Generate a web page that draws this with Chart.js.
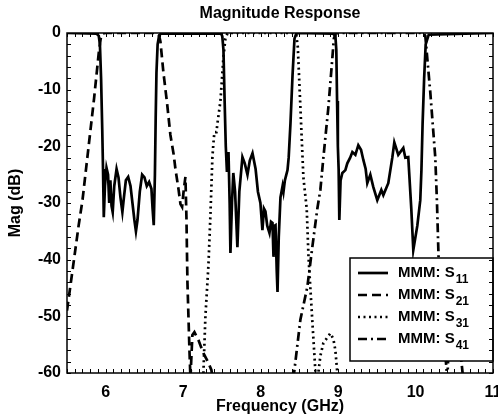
<!DOCTYPE html>
<html>
<head>
<meta charset="utf-8">
<title>Magnitude Response</title>
<script src="https://cdn.jsdelivr.net/npm/chart.js@4.4.1/dist/chart.umd.min.js"></script>
<style>
  html, body { margin: 0; padding: 0; background: #fff; }
  #wrap { width: 498px; height: 417px; }
</style>
</head>
<body>
<div id="wrap"><canvas id="magChart" width="498" height="417"></canvas></div>
<script>
// ============================================================
// Data
// ============================================================

const xTicks = [6, 7, 8, 9, 10, 11];
const yTicks = [0, -10, -20, -30, -40, -50, -60];
const seriesLabels = ['S11', 'S21', 'S31', 'S41'];

// S11 - solid
const s11Freq = [5.5, 5.88, 5.91, 5.925, 5.94, 5.955, 5.965, 5.975, 5.99, 6.01, 6.03, 6.045, 6.06, 6.075, 6.09,
  6.11, 6.14, 6.165, 6.19, 6.215, 6.235, 6.26, 6.29, 6.32, 6.345, 6.37, 6.39, 6.41, 6.44, 6.47, 6.5, 6.53,
  6.56, 6.59, 6.605, 6.62, 6.635, 6.645, 6.655, 6.67, 6.69, 6.72,
  7.49, 7.505, 7.52, 7.535, 7.55, 7.565, 7.585, 7.60, 7.61, 7.63, 7.647, 7.67, 7.70, 7.725, 7.765, 7.795,
  7.83, 7.86, 7.895, 7.935, 7.965, 7.997, 8.023, 8.043, 8.062, 8.085, 8.114, 8.134, 8.153, 8.166, 8.18,
  8.192, 8.208, 8.218, 8.234, 8.256, 8.283, 8.295, 8.313, 8.347, 8.362, 8.385, 8.412, 8.437, 8.46, 8.48,
  8.93, 8.965, 8.977, 8.987, 8.997, 9.007, 9.016, 9.032, 9.055, 9.094, 9.119, 9.156, 9.184, 9.223, 9.261,
  9.296, 9.326, 9.356, 9.377, 9.416, 9.455, 9.506, 9.558, 9.584, 9.648, 9.70, 9.726, 9.777, 9.842, 9.868,
  9.906, 9.945, 9.971, 10.023, 10.061, 10.076, 10.091, 10.111, 10.131, 10.17, 11];
const s11Mag = [0, -0.1, -0.5, -2, -8, -17, -24, -32.5, -27, -23.8, -25, -30, -26, -30.5, -31.6,
  -27, -24, -25.5, -29, -31.6, -29, -26, -25.4, -27, -30, -33, -35, -33, -28, -25, -25.5, -27,
  -26.3, -27.5, -31, -33.9, -25, -15, -7, -2, -0.4, -0.05,
  -0.1, -0.6, -3, -12, -20, -24.5, -21, -30, -38.8, -30, -24.7, -28, -37.8, -28, -21.9, -23,
  -25, -22.5, -21.2, -24, -28, -30, -34.8, -31, -31.5, -34, -35.3, -33.3, -33.5, -39.5, -34,
  -33.9, -42, -45.7, -36, -29, -27, -28, -26, -24.2, -22, -16, -7.4, -1, -0.1, 0,
  -0.1, -0.5, -3, -12, -20, -24, -33, -26, -24.7, -24.2, -23, -22, -21, -21.5, -19.8,
  -20.6, -22.4, -24, -26.5, -25, -27.2, -29.5, -27.7, -28.6, -26.5, -22, -19.3, -21.5, -20.3, -22,
  -21.9, -31, -38.3, -34, -29.5, -24.2, -16, -8, -2, -0.3, 0, 0];

// S21 - dashed
const s21Freq = [5.5, 5.55, 5.6, 5.65, 5.7, 5.75, 5.8, 5.85, 5.88, 5.91, 5.935, 5.96, 6.0, 6.65, 6.69,
  6.706, 6.745, 6.793, 6.835, 6.878, 6.9, 6.939, 6.965, 6.986, 7.007, 7.029, 7.042, 7.055, 7.081, 7.094,
  7.1, 7.119, 7.145, 7.197, 7.261, 7.326, 7.365, 7.377];
const s21Mag = [-49, -44, -39, -34, -29.5, -23.5, -17.5, -11.5, -7.5, -3.5, -1, -0.1, 0, 0, -0.5,
  -1.5, -7, -12.5, -18, -21.5, -24, -27.5, -30.2, -30.7, -27.7, -25.4, -32.5, -44, -56, -61,
  -59, -53.3, -52.8, -54.2, -56.5, -58.2, -59.5, -61];

// S31 - dotted
const s31Freq = [7.248, 7.261, 7.287, 7.326, 7.352, 7.377, 7.39, 7.403, 7.429, 7.442, 7.481, 7.519,
  7.545, 7.571, 7.6, 8.44, 8.46, 8.48, 8.513, 8.552, 8.595, 8.618, 8.668, 8.706, 8.72,
  8.745, 8.771, 8.81, 8.9, 8.939, 8.965, 8.99, 9.0];
const s31Mag = [-61, -60, -50, -41, -32, -22, -19.5, -17.5, -17.5, -16, -12, -4.4,
  -1, -0.1, 0, 0, -0.3, -2.5, -13, -25.5, -31, -39.5, -51, -59.5, -61,
  -60, -57, -54.7, -53, -54, -56, -60, -61];

// S41 - dash-dot
const s41Freq = [8.423, 8.513, 8.603, 8.668, 8.732, 8.771, 8.81, 8.874, 8.926, 8.945, 8.97, 9.0,
  10.1, 10.126, 10.19, 10.255, 10.277, 10.297, 10.33, 10.38, 10.41,
  10.42, 10.47, 10.52, 10.57, 10.6, 10.615];
const s41Mag = [-61, -50.6, -44.8, -37.7, -31, -27.7, -22, -13.2, -4.4, -1, -0.1, 0,
  0, -0.5, -10.4, -22, -30, -39.5, -48, -56, -61,
  -58, -53, -52, -55, -59, -61];

// ============================================================
// Helpers / plugins
// ============================================================

const FONT = "'Liberation Sans', Arial, sans-serif";

function toPoints(freq, mag) {
  return freq.map((f, i) => ({ x: f, y: mag[i] }));
}

function makeDataset(label, freq, mag, dash) {
  return {
    label: label,
    data: toPoints(freq, mag),
    showLine: true,
    borderColor: '#000',
    backgroundColor: '#000',
    borderWidth: 2.7,
    borderDash: dash,
    pointRadius: 0,
    tension: 0
  };
}

// Inward ticks on all four sides plus the axes box
const frameTicks = {
  id: 'frameTicks',
  afterDraw(chart) {
    const { ctx, chartArea: a, scales: { x, y } } = chart;
    ctx.save();
    ctx.strokeStyle = '#000';
    ctx.lineWidth = 1;
    ctx.beginPath();
    for (let i = 55; i <= 110; i++) {
      const px = Math.round(x.getPixelForValue(i / 10)) + 0.5;
      ctx.moveTo(px, a.bottom); ctx.lineTo(px, a.bottom - 4);
      ctx.moveTo(px, a.top); ctx.lineTo(px, a.top + 4);
    }
    for (let v = -60; v <= 0; v += 2) {
      const py = Math.round(y.getPixelForValue(v)) + 0.5;
      ctx.moveTo(a.left, py); ctx.lineTo(a.left + 4, py);
      ctx.moveTo(a.right, py); ctx.lineTo(a.right - 4, py);
    }
    ctx.stroke();
    ctx.lineWidth = 1.5;
    ctx.strokeRect(a.left, a.top, a.right - a.left, a.bottom - a.top);
    ctx.restore();
  }
};

// Boxed legend with subscripts (MATLAB style)
const boxLegend = {
  id: 'boxLegend',
  afterDatasetsDraw(chart) {
    const { ctx, chartArea: a } = chart;
    const left = a.right - 143, top = a.bottom - 115, bottom = a.bottom - 12;
    ctx.save();
    ctx.fillStyle = '#fff';
    ctx.fillRect(left, top, a.right - left, bottom - top);
    ctx.strokeStyle = '#000';
    ctx.lineWidth = 1.5;
    ctx.strokeRect(left, top, a.right - left, bottom - top);

    chart.data.datasets.forEach((ds, i) => {
      const yy = top + 15 + i * 22;
      ctx.lineWidth = ds.borderWidth;
      ctx.setLineDash(ds.borderDash || []);
      ctx.beginPath();
      ctx.moveTo(left + 8, yy);
      ctx.lineTo(left + 38, yy);
      ctx.stroke();
      ctx.setLineDash([]);

      ctx.fillStyle = '#000';
      ctx.textBaseline = 'middle';
      ctx.font = 'bold 15px ' + FONT;
      const main = 'MMM: ' + ds.label.charAt(0);
      ctx.fillText(main, left + 48, yy);
      const w = ctx.measureText(main).width;
      ctx.font = 'bold 12px ' + FONT;
      ctx.fillText(ds.label.slice(1), left + 48 + w + 1, yy + 7);
    });
    ctx.restore();
  }
};

// ============================================================
// Chart
// ============================================================

function initChart() {
  const canvas = document.getElementById('magChart');

  new Chart(canvas, {
    type: 'scatter',
    data: {
      datasets: [
        makeDataset(seriesLabels[0], s11Freq, s11Mag, []),
        makeDataset(seriesLabels[1], s21Freq, s21Mag, [9, 5]),
        makeDataset(seriesLabels[2], s31Freq, s31Mag, [2, 3.5]),
        makeDataset(seriesLabels[3], s41Freq, s41Mag, [9, 4, 2, 4])
      ]
    },
    options: {
      responsive: false,
      devicePixelRatio: 1,
      animation: false,
      layout: { padding: { left: 0, right: 5, top: 0, bottom: 0 } },
      plugins: {
        legend: { display: false },
        tooltip: { enabled: false },
        title: {
          display: true,
          fullSize: false,
          text: 'Magnitude Response',
          color: '#000',
          font: { family: FONT, size: 16, weight: 'bold' },
          padding: { top: 4, bottom: 9.8 }
        }
      },
      scales: {
        x: {
          type: 'linear',
          min: 5.5,
          max: 11,
          afterBuildTicks: scale => { scale.ticks = xTicks.map(v => ({ value: v })); },
          afterFit: scale => {
            scale.height = 44;
            scale.paddingLeft = 0;
            scale.paddingRight = 0;
          },
          grid: { display: false, drawTicks: false },
          border: { display: false },
          ticks: {
            color: '#000',
            padding: 10,
            maxRotation: 0,
            font: { family: FONT, size: 16, weight: 'bold' }
          },
          title: {
            display: true,
            text: 'Frequency (GHz)',
            color: '#000',
            padding: { top: 0, bottom: 1 },
            font: { family: FONT, size: 16, weight: 'bold' }
          }
        },
        y: {
          min: -60,
          max: 0,
          afterBuildTicks: scale => { scale.ticks = yTicks.map(v => ({ value: v })); },
          afterFit: scale => { scale.width = 67; },
          grid: { display: false, drawTicks: false },
          border: { display: false },
          ticks: {
            color: '#000',
            padding: 6,
            font: { family: FONT, size: 16, weight: 'bold' }
          },
          title: {
            display: true,
            text: 'Mag (dB)',
            color: '#000',
            padding: { top: 6, bottom: 0 },
            font: { family: FONT, size: 16, weight: 'bold' }
          }
        }
      }
    },
    plugins: [boxLegend, frameTicks]
  });
}

document.addEventListener('DOMContentLoaded', initChart);
</script>
</body>
</html>
